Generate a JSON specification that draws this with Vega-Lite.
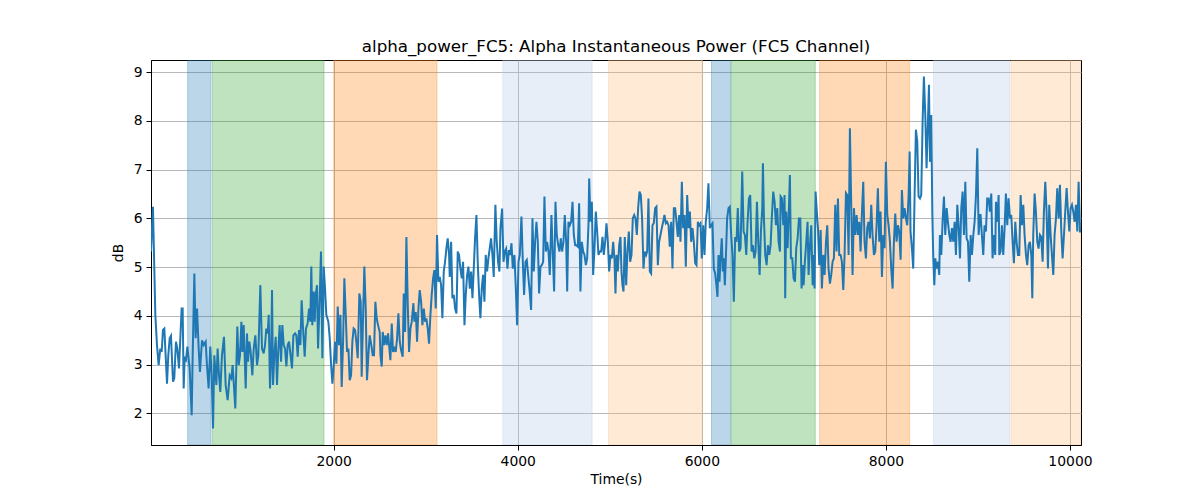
{
"$schema":"https://vega.github.io/schema/vega-lite/v6.json",
"width":930,"height":385,
"autosize":"none",
"padding":{"left":151,"top":60,"right":119,"bottom":55},
"background":"white",
"title":{"text":"alpha_power_FC5: Alpha Instantaneous Power (FC5 Channel)","fontSize":16.7,"fontWeight":"normal","font":"DejaVu Sans","color":"black","offset":4,"anchor":"middle"},
"config":{"view":{"stroke":"black","strokeWidth":1},"font":"DejaVu Sans",
"axis":{"domainColor":"black","domainWidth":1,"tickColor":"black","tickSize":5,"tickWidth":1,"labelFontSize":13.9,"labelColor":"black","labelFont":"DejaVu Sans","titleFont":"DejaVu Sans","titleFontSize":13.9,"titleFontWeight":"normal","titleColor":"black","labelPadding":4,"grid":true,"gridColor":"#b0b0b0","gridWidth":0.9,"gridOpacity":1}},
"datasets":{
"bands":[
{"start":413,"end":667,"phase":"b"},
{"start":681,"end":1895,"phase":"g"},
{"start":2000,"end":3123,"phase":"o"},
{"start":3837,"end":4808,"phase":"lb"},
{"start":4986,"end":6004,"phase":"lo"},
{"start":6105,"end":6312,"phase":"b"},
{"start":6322,"end":7233,"phase":"g"},
{"start":7280,"end":8258,"phase":"o"},
{"start":8518,"end":9348,"phase":"lb"},
{"start":9362,"end":10120,"phase":"lo"}
],
"series":[
{"t":15,"v":5.32},{"t":36,"v":6.24},{"t":62,"v":4.02},{"t":80,"v":3.40},{"t":98,"v":2.99},{"t":116,"v":3.33},{"t":131,"v":3.26},{"t":145,"v":3.71},{"t":160,"v":3.74},{"t":174,"v":3.19},{"t":189,"v":2.61},{"t":203,"v":3.19},{"t":218,"v":3.54},{"t":232,"v":3.59},{"t":254,"v":2.65},{"t":268,"v":2.72},{"t":286,"v":3.47},{"t":301,"v":3.33},{"t":319,"v":2.92},{"t":348,"v":4.15},{"t":359,"v":4.15},{"t":370,"v":2.51},{"t":381,"v":3.13},{"t":395,"v":3.09},{"t":410,"v":3.37},{"t":435,"v":2.92},{"t":457,"v":1.96},{"t":468,"v":3.19},{"t":486,"v":4.87},{"t":500,"v":3.54},{"t":515,"v":4.15},{"t":533,"v":3.33},{"t":547,"v":2.85},{"t":569,"v":3.50},{"t":587,"v":3.40},{"t":609,"v":3.47},{"t":623,"v":2.99},{"t":641,"v":2.51},{"t":659,"v":3.37},{"t":674,"v":2.78},{"t":689,"v":1.69},{"t":703,"v":3.19},{"t":725,"v":2.58},{"t":739,"v":3.33},{"t":754,"v":2.78},{"t":768,"v":2.44},{"t":786,"v":3.19},{"t":808,"v":3.57},{"t":826,"v":2.58},{"t":848,"v":2.27},{"t":870,"v":2.78},{"t":888,"v":2.72},{"t":902,"v":2.99},{"t":931,"v":2.10},{"t":953,"v":3.78},{"t":968,"v":2.99},{"t":982,"v":3.19},{"t":997,"v":3.88},{"t":1008,"v":3.26},{"t":1022,"v":3.81},{"t":1044,"v":2.51},{"t":1058,"v":3.64},{"t":1069,"v":3.06},{"t":1084,"v":3.47},{"t":1098,"v":3.26},{"t":1116,"v":2.78},{"t":1131,"v":3.33},{"t":1149,"v":3.60},{"t":1167,"v":2.99},{"t":1181,"v":3.19},
{"t":1203,"v":4.63},{"t":1221,"v":3.33},{"t":1239,"v":3.23},{"t":1254,"v":3.40},{"t":1268,"v":3.74},{"t":1283,"v":3.64},{"t":1294,"v":4.02},{"t":1308,"v":2.51},{"t":1319,"v":3.06},{"t":1330,"v":4.53},{"t":1341,"v":2.58},{"t":1355,"v":3.19},{"t":1370,"v":3.57},{"t":1384,"v":2.58},{"t":1399,"v":3.33},{"t":1413,"v":3.81},{"t":1428,"v":3.06},{"t":1442,"v":3.81},{"t":1457,"v":3.40},{"t":1471,"v":3.33},{"t":1486,"v":2.96},{"t":1500,"v":3.40},{"t":1515,"v":3.47},{"t":1529,"v":3.23},{"t":1547,"v":2.92},{"t":1562,"v":3.60},{"t":1580,"v":3.64},{"t":1594,"v":3.60},{"t":1609,"v":3.16},{"t":1623,"v":3.71},{"t":1638,"v":3.40},{"t":1652,"v":4.32},{"t":1667,"v":3.74},{"t":1685,"v":3.16},{"t":1699,"v":3.74},{"t":1717,"v":3.84},{"t":1732,"v":4.15},{"t":1746,"v":3.88},{"t":1757,"v":5.01},{"t":1768,"v":3.81},{"t":1783,"v":4.50},{"t":1794,"v":3.88},{"t":1804,"v":4.43},{"t":1819,"v":4.63},{"t":1830,"v":3.33},{"t":1841,"v":3.95},{"t":1852,"v":4.63},{"t":1862,"v":5.32},{"t":1877,"v":3.13},{"t":1891,"v":5.01},{"t":1906,"v":4.56},{"t":1920,"v":4.02},{"t":1942,"v":3.88},{"t":1957,"v":3.54},{"t":1971,"v":3.02},{"t":1986,"v":2.61},{"t":2000,"v":2.96},{"t":2015,"v":3.47},{"t":2029,"v":3.02},{"t":2044,"v":4.19},{"t":2058,"v":3.40},{"t":2073,"v":4.02},{"t":2087,"v":2.54},{"t":2102,"v":3.47},{"t":2116,"v":4.77},{"t":2131,"v":4.02},{"t":2145,"v":3.26},{"t":2160,"v":3.33},{"t":2174,"v":2.68},{"t":2189,"v":2.78},{"t":2203,"v":3.47},{"t":2217,"v":3.74},{"t":2232,"v":3.71},{"t":2246,"v":3.47},{"t":2261,"v":3.13},{"t":2279,"v":4.46},{"t":2294,"v":4.29},{"t":2304,"v":2.75},{"t":2319,"v":3.95},{"t":2333,"v":5.01},{"t":2348,"v":4.15},{"t":2362,"v":2.68},{"t":2377,"v":3.19},{"t":2391,"v":3.60},{"t":2409,"v":3.40},{"t":2424,"v":3.19},{"t":2438,"v":3.19},{"t":2453,"v":4.29},{"t":2467,"v":3.95},{"t":2482,"v":3.81},{"t":2500,"v":3.67},
{"t":2508,"v":3.19},{"t":2522,"v":2.96},{"t":2533,"v":3.67},{"t":2547,"v":3.40},{"t":2562,"v":3.60},{"t":2576,"v":3.40},{"t":2591,"v":3.64},{"t":2605,"v":3.33},{"t":2616,"v":3.09},{"t":2631,"v":3.84},{"t":2645,"v":3.26},{"t":2660,"v":3.33},{"t":2674,"v":3.26},{"t":2689,"v":3.54},{"t":2703,"v":4.05},{"t":2718,"v":3.47},{"t":2732,"v":3.30},{"t":2750,"v":3.16},{"t":2761,"v":4.46},{"t":2776,"v":3.67},{"t":2790,"v":5.62},{"t":2805,"v":4.22},{"t":2819,"v":3.26},{"t":2834,"v":3.74},{"t":2848,"v":3.88},{"t":2866,"v":4.26},{"t":2877,"v":3.88},{"t":2892,"v":4.08},{"t":2906,"v":3.47},{"t":2921,"v":4.15},{"t":2935,"v":4.53},{"t":2950,"v":4.29},{"t":2964,"v":3.81},{"t":2979,"v":4.15},{"t":2993,"v":3.88},{"t":3007,"v":3.95},{"t":3022,"v":3.74},{"t":3036,"v":3.43},{"t":3051,"v":4.02},{"t":3065,"v":4.43},{"t":3080,"v":4.77},{"t":3094,"v":4.94},{"t":3109,"v":4.15},{"t":3123,"v":5.66},{"t":3138,"v":4.70},{"t":3152,"v":4.80},{"t":3167,"v":4.63},{"t":3181,"v":3.95},{"t":3196,"v":4.91},{"t":3210,"v":5.11},{"t":3225,"v":5.39},{"t":3239,"v":5.59},{"t":3254,"v":5.25},{"t":3261,"v":4.80},{"t":3276,"v":5.52},{"t":3290,"v":4.36},{"t":3305,"v":4.43},{"t":3319,"v":4.15},{"t":3334,"v":4.05},{"t":3348,"v":5.32},{"t":3362,"v":5.25},{"t":3377,"v":4.97},{"t":3392,"v":4.77},{"t":3406,"v":5.11},{"t":3421,"v":3.81},{"t":3435,"v":4.43},{"t":3450,"v":4.84},{"t":3464,"v":5.01},{"t":3479,"v":4.56},{"t":3493,"v":4.91},{"t":3508,"v":4.36},{"t":3522,"v":4.97},{"t":3536,"v":5.59},{"t":3551,"v":6.07},{"t":3565,"v":5.11},{"t":3580,"v":4.43},{"t":3594,"v":3.95},{"t":3609,"v":4.56},{"t":3623,"v":4.84},{"t":3638,"v":4.29},{"t":3652,"v":5.25},{"t":3667,"v":4.91},{"t":3681,"v":5.18},{"t":3696,"v":5.39},{"t":3710,"v":5.59},{"t":3725,"v":5.25},{"t":3739,"v":4.80},{"t":3757,"v":6.28},{"t":3772,"v":5.52},{"t":3786,"v":5.11},{"t":3801,"v":4.91},
{"t":3812,"v":5.80},{"t":3830,"v":6.20},{"t":3845,"v":5.11},{"t":3859,"v":5.32},{"t":3874,"v":5.38},{"t":3888,"v":4.97},{"t":3903,"v":5.35},{"t":3917,"v":5.25},{"t":3932,"v":5.49},{"t":3946,"v":4.97},{"t":3964,"v":5.25},{"t":3979,"v":4.56},{"t":3993,"v":3.81},{"t":4008,"v":5.11},{"t":4022,"v":5.25},{"t":4040,"v":6.04},{"t":4055,"v":5.11},{"t":4069,"v":4.43},{"t":4084,"v":5.11},{"t":4098,"v":5.15},{"t":4113,"v":4.84},{"t":4127,"v":4.56},{"t":4145,"v":4.12},{"t":4160,"v":6.00},{"t":4174,"v":4.91},{"t":4189,"v":5.52},{"t":4203,"v":5.93},{"t":4218,"v":5.52},{"t":4232,"v":4.46},{"t":4247,"v":5.01},{"t":4261,"v":5.04},{"t":4276,"v":5.11},{"t":4290,"v":6.45},{"t":4305,"v":5.32},{"t":4319,"v":5.52},{"t":4334,"v":5.32},{"t":4348,"v":4.84},{"t":4366,"v":6.07},{"t":4381,"v":5.25},{"t":4395,"v":4.50},{"t":4410,"v":6.34},{"t":4424,"v":5.66},{"t":4439,"v":5.45},{"t":4453,"v":5.32},{"t":4468,"v":5.59},{"t":4482,"v":5.32},{"t":4497,"v":5.52},{"t":4511,"v":6.07},{"t":4526,"v":5.52},{"t":4537,"v":4.50},{"t":4551,"v":5.93},{"t":4566,"v":5.86},{"t":4580,"v":5.93},{"t":4595,"v":6.34},{"t":4609,"v":5.66},{"t":4624,"v":5.45},{"t":4638,"v":5.45},{"t":4653,"v":5.42},{"t":4667,"v":6.31},{"t":4681,"v":4.50},{"t":4696,"v":5.52},{"t":4711,"v":5.32},{"t":4725,"v":5.25},{"t":4740,"v":5.04},{"t":4754,"v":5.18},{"t":4769,"v":5.90},{"t":4776,"v":6.82},{"t":4790,"v":5.93},{"t":4805,"v":6.34},{"t":4819,"v":4.84},{"t":4834,"v":5.38},{"t":4848,"v":6.14},{"t":4863,"v":5.73},{"t":4877,"v":5.25},{"t":4892,"v":5.32},{"t":4906,"v":5.32},{"t":4921,"v":5.62},{"t":4935,"v":5.25},{"t":4950,"v":5.52},{"t":4964,"v":5.90},{"t":4979,"v":5.52},{"t":4993,"v":4.91},{"t":5008,"v":5.25},{"t":5022,"v":5.18},{"t":5037,"v":5.52},{"t":5051,"v":5.15},{"t":5062,"v":4.46},{"t":5073,"v":5.25},{"t":5087,"v":4.91},{"t":5102,"v":5.45},
{"t":5116,"v":5.62},{"t":5127,"v":4.91},{"t":5138,"v":4.63},{"t":5149,"v":4.50},{"t":5163,"v":5.62},{"t":5178,"v":4.63},{"t":5192,"v":5.32},{"t":5207,"v":5.73},{"t":5221,"v":5.11},{"t":5236,"v":5.25},{"t":5250,"v":6.00},{"t":5265,"v":6.07},{"t":5279,"v":6.00},{"t":5294,"v":5.66},{"t":5308,"v":6.21},{"t":5323,"v":6.55},{"t":5337,"v":6.48},{"t":5351,"v":6.00},{"t":5366,"v":4.97},{"t":5380,"v":5.32},{"t":5395,"v":5.25},{"t":5406,"v":5.32},{"t":5420,"v":6.41},{"t":5435,"v":4.91},{"t":5449,"v":4.87},{"t":5464,"v":5.86},{"t":5478,"v":5.90},{"t":5493,"v":6.21},{"t":5507,"v":6.24},{"t":5522,"v":5.04},{"t":5536,"v":5.52},{"t":5551,"v":5.66},{"t":5565,"v":5.80},{"t":5580,"v":5.93},{"t":5594,"v":6.07},{"t":5609,"v":5.90},{"t":5623,"v":5.93},{"t":5638,"v":5.86},{"t":5652,"v":5.42},{"t":5667,"v":5.93},{"t":5681,"v":4.97},{"t":5696,"v":6.21},{"t":5710,"v":6.21},{"t":5725,"v":5.93},{"t":5739,"v":5.62},{"t":5754,"v":6.07},{"t":5768,"v":5.52},{"t":5783,"v":6.75},{"t":5797,"v":5.80},{"t":5812,"v":6.07},{"t":5826,"v":5.01},{"t":5841,"v":6.48},{"t":5855,"v":5.80},{"t":5870,"v":6.14},{"t":5884,"v":5.52},{"t":5899,"v":5.80},{"t":5913,"v":5.52},{"t":5928,"v":5.08},{"t":5942,"v":5.04},{"t":5957,"v":5.93},{"t":5971,"v":5.86},{"t":5986,"v":5.90},{"t":6000,"v":5.18},{"t":6015,"v":5.86},{"t":6029,"v":5.25},{"t":6043,"v":5.93},{"t":6058,"v":6.21},{"t":6072,"v":6.72},{"t":6087,"v":5.80},{"t":6101,"v":5.86},{"t":6116,"v":5.90},{"t":6130,"v":4.97},{"t":6145,"v":4.87},{"t":6159,"v":4.63},{"t":6170,"v":4.39},{"t":6181,"v":5.25},{"t":6192,"v":4.70},{"t":6203,"v":5.18},{"t":6217,"v":5.59},{"t":6228,"v":4.91},{"t":6239,"v":5.18},{"t":6250,"v":4.63},{"t":6261,"v":5.18},{"t":6275,"v":6.00},{"t":6290,"v":6.21},{"t":6304,"v":6.24},{"t":6319,"v":5.66},{"t":6333,"v":5.25},{"t":6348,"v":4.29},{"t":6362,"v":5.62},{"t":6377,"v":5.52},{"t":6391,"v":6.21},{"t":6406,"v":5.32},
{"t":6421,"v":5.39},{"t":6439,"v":6.96},{"t":6454,"v":5.73},{"t":6468,"v":5.66},{"t":6483,"v":5.25},{"t":6497,"v":5.93},{"t":6512,"v":6.41},{"t":6526,"v":6.48},{"t":6541,"v":5.32},{"t":6555,"v":5.45},{"t":6570,"v":5.18},{"t":6584,"v":5.32},{"t":6599,"v":6.34},{"t":6613,"v":5.52},{"t":6628,"v":4.84},{"t":6642,"v":5.73},{"t":6657,"v":6.21},{"t":6664,"v":7.13},{"t":6675,"v":6.00},{"t":6689,"v":5.25},{"t":6704,"v":5.04},{"t":6718,"v":5.45},{"t":6733,"v":5.25},{"t":6747,"v":5.45},{"t":6762,"v":6.07},{"t":6776,"v":6.55},{"t":6791,"v":6.34},{"t":6805,"v":5.86},{"t":6820,"v":6.21},{"t":6834,"v":5.52},{"t":6849,"v":5.32},{"t":6856,"v":6.45},{"t":6870,"v":6.41},{"t":6885,"v":5.86},{"t":6899,"v":6.48},{"t":6906,"v":4.36},{"t":6917,"v":6.14},{"t":6932,"v":5.39},{"t":6946,"v":6.21},{"t":6957,"v":6.89},{"t":6968,"v":5.18},{"t":6983,"v":5.18},{"t":6997,"v":4.77},{"t":7012,"v":4.70},{"t":7026,"v":5.39},{"t":7041,"v":5.59},{"t":7055,"v":6.00},{"t":7070,"v":6.00},{"t":7084,"v":4.56},{"t":7095,"v":5.04},{"t":7106,"v":4.63},{"t":7120,"v":5.11},{"t":7135,"v":5.52},{"t":7149,"v":5.93},{"t":7160,"v":4.84},{"t":7175,"v":5.45},{"t":7189,"v":5.86},{"t":7204,"v":4.63},{"t":7214,"v":5.25},{"t":7225,"v":4.56},{"t":7236,"v":6.55},{"t":7247,"v":6.21},{"t":7262,"v":5.80},{"t":7276,"v":5.04},{"t":7291,"v":5.76},{"t":7305,"v":4.56},{"t":7320,"v":5.25},{"t":7334,"v":4.84},{"t":7349,"v":5.52},{"t":7363,"v":5.86},{"t":7377,"v":4.97},{"t":7392,"v":4.66},{"t":7406,"v":4.84},{"t":7421,"v":5.11},{"t":7435,"v":5.18},{"t":7450,"v":6.28},{"t":7464,"v":5.32},{"t":7479,"v":6.41},{"t":7493,"v":5.25},{"t":7508,"v":5.25},{"t":7522,"v":5.11},{"t":7537,"v":4.53},{"t":7551,"v":5.25},{"t":7566,"v":6.52},{"t":7580,"v":6.48},{"t":7595,"v":5.25},{"t":7609,"v":7.85},{"t":7624,"v":6.21},{"t":7638,"v":4.84},{"t":7653,"v":6.21},{"t":7667,"v":5.66},{"t":7682,"v":6.07},{"t":7696,"v":5.66},{"t":7711,"v":5.93},
{"t":7725,"v":5.32},{"t":7739,"v":6.07},{"t":7754,"v":6.75},{"t":7768,"v":5.52},{"t":7783,"v":5.18},{"t":7797,"v":5.80},{"t":7812,"v":5.93},{"t":7826,"v":5.59},{"t":7841,"v":6.28},{"t":7855,"v":5.66},{"t":7870,"v":5.25},{"t":7884,"v":5.32},{"t":7899,"v":5.86},{"t":7913,"v":6.62},{"t":7928,"v":5.52},{"t":7942,"v":6.14},{"t":7957,"v":4.80},{"t":7971,"v":5.66},{"t":7986,"v":5.39},{"t":8000,"v":7.16},{"t":8015,"v":6.07},{"t":8029,"v":5.86},{"t":8044,"v":5.52},{"t":8058,"v":4.97},{"t":8073,"v":4.56},{"t":8087,"v":5.52},{"t":8102,"v":6.10},{"t":8116,"v":5.52},{"t":8131,"v":5.86},{"t":8145,"v":5.73},{"t":8160,"v":5.15},{"t":8174,"v":6.58},{"t":8189,"v":6.00},{"t":8203,"v":6.21},{"t":8218,"v":6.00},{"t":8232,"v":5.86},{"t":8247,"v":6.48},{"t":8258,"v":7.37},{"t":8268,"v":5.73},{"t":8283,"v":5.38},{"t":8297,"v":4.97},{"t":8312,"v":6.48},{"t":8326,"v":7.82},{"t":8341,"v":7.58},{"t":8355,"v":6.45},{"t":8370,"v":6.41},{"t":8384,"v":6.48},{"t":8399,"v":7.99},{"t":8413,"v":8.91},{"t":8428,"v":8.12},{"t":8442,"v":7.03},{"t":8457,"v":7.99},{"t":8468,"v":8.74},{"t":8479,"v":7.16},{"t":8493,"v":8.12},{"t":8504,"v":6.14},{"t":8515,"v":5.18},{"t":8526,"v":4.63},{"t":8537,"v":5.18},{"t":8551,"v":4.97},{"t":8566,"v":5.11},{"t":8580,"v":4.84},{"t":8587,"v":5.66},{"t":8602,"v":5.25},{"t":8616,"v":5.93},{"t":8631,"v":6.45},{"t":8645,"v":5.66},{"t":8660,"v":6.21},{"t":8674,"v":5.93},{"t":8689,"v":5.66},{"t":8703,"v":5.52},{"t":8718,"v":5.80},{"t":8732,"v":5.52},{"t":8747,"v":5.93},{"t":8761,"v":5.25},{"t":8776,"v":6.28},{"t":8790,"v":5.86},{"t":8805,"v":5.18},{"t":8819,"v":6.21},{"t":8834,"v":6.55},{"t":8848,"v":5.66},{"t":8863,"v":6.75},{"t":8877,"v":5.59},{"t":8892,"v":5.52},{"t":8906,"v":4.70},{"t":8921,"v":5.66},{"t":8935,"v":5.25},{"t":8950,"v":5.66},{"t":8964,"v":5.93},{"t":8979,"v":6.48},{"t":8993,"v":7.44},{"t":9008,"v":5.66},{"t":9022,"v":6.07},
{"t":9029,"v":6.07},{"t":9043,"v":5.66},{"t":9058,"v":5.25},{"t":9072,"v":5.86},{"t":9087,"v":5.73},{"t":9101,"v":6.41},{"t":9116,"v":6.41},{"t":9130,"v":6.14},{"t":9145,"v":6.51},{"t":9159,"v":5.18},{"t":9174,"v":5.66},{"t":9188,"v":5.25},{"t":9196,"v":6.34},{"t":9210,"v":5.93},{"t":9225,"v":6.48},{"t":9232,"v":5.25},{"t":9246,"v":5.32},{"t":9261,"v":5.86},{"t":9275,"v":5.25},{"t":9290,"v":5.80},{"t":9304,"v":6.51},{"t":9319,"v":5.86},{"t":9333,"v":6.41},{"t":9348,"v":6.00},{"t":9362,"v":6.07},{"t":9377,"v":5.52},{"t":9391,"v":5.08},{"t":9406,"v":5.93},{"t":9420,"v":5.52},{"t":9435,"v":5.25},{"t":9449,"v":5.25},{"t":9464,"v":6.48},{"t":9478,"v":5.86},{"t":9493,"v":6.28},{"t":9507,"v":5.66},{"t":9522,"v":5.25},{"t":9536,"v":5.04},{"t":9551,"v":5.45},{"t":9565,"v":5.52},{"t":9580,"v":5.25},{"t":9591,"v":4.36},{"t":9601,"v":5.66},{"t":9616,"v":6.51},{"t":9630,"v":6.14},{"t":9645,"v":5.52},{"t":9659,"v":5.38},{"t":9674,"v":5.66},{"t":9688,"v":5.62},{"t":9703,"v":5.11},{"t":9717,"v":6.14},{"t":9732,"v":6.75},{"t":9746,"v":6.14},{"t":9761,"v":4.97},{"t":9775,"v":6.28},{"t":9790,"v":5.66},{"t":9804,"v":5.25},{"t":9819,"v":4.84},{"t":9833,"v":5.66},{"t":9848,"v":6.00},{"t":9862,"v":6.62},{"t":9877,"v":6.00},{"t":9891,"v":6.69},{"t":9906,"v":5.73},{"t":9920,"v":5.18},{"t":9935,"v":5.66},{"t":9949,"v":6.14},{"t":9964,"v":6.62},{"t":9978,"v":6.14},{"t":9993,"v":5.73},{"t":10007,"v":6.21},{"t":10022,"v":6.28},{"t":10036,"v":6.14},{"t":10051,"v":5.93},{"t":10065,"v":6.28},{"t":10080,"v":5.73},{"t":10094,"v":6.75},{"t":10109,"v":5.73},{"t":10120,"v":5.73}
]},
"layer":[
{"data":{"name":"bands"},
"mark":{"type":"rect","fillOpacity":0.3,"strokeOpacity":0.3,"strokeWidth":1,"clip":true},
"encoding":{
"x":{"field":"start","type":"quantitative","scale":{"domain":[15,10120],"nice":false,"zero":false}},
"x2":{"field":"end"},
"color":{"field":"phase","type":"nominal","scale":{"domain":["b","g","o","lb","lo"],"range":["#1f77b4","#2ca02c","#ff7f0e","#aec7e8","#ffbb78"]},"legend":null},
"stroke":{"field":"phase","type":"nominal","scale":{"domain":["b","g","o","lb","lo"],"range":["#1f77b4","#2ca02c","#ff7f0e","#aec7e8","#ffbb78"]},"legend":null}
}},
{"data":{"name":"series"},
"mark":{"type":"line","color":"#1f77b4","strokeWidth":2,"clip":true},
"encoding":{
"x":{"field":"t","type":"quantitative","scale":{"domain":[15,10120],"nice":false,"zero":false},"axis":{"title":"Time(s)","values":[2000,4000,6000,8000,10000],"format":"d","labelFlush":false,"titlePadding":5}},
"y":{"field":"v","type":"quantitative","scale":{"domain":[1.35,9.25],"nice":false,"zero":false},"axis":{"title":"dB","values":[2,3,4,5,6,7,8,9],"format":"d","labelFlush":false,"titlePadding":8}}
}}
]
}
